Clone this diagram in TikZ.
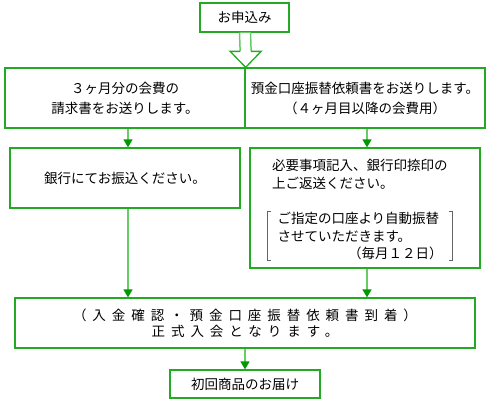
\documentclass[tikz,border=0pt]{standalone}
\usepackage{fontspec}
\setmainfont{Noto Sans CJK JP}
\newfontfamily\jpwide[LetterSpace=44]{Noto Sans CJK JP}
\usetikzlibrary{arrows.meta,positioning,calc}
\definecolor{boxgreen}{HTML}{22AA22}
\definecolor{shaftgreen}{HTML}{66CC66}
\definecolor{tipgreen}{HTML}{009900}
\definecolor{brgray}{HTML}{666666}
\tikzset{
  >={Triangle[length=8pt,width=9pt,color=tipgreen]},
  % kasten
  fbox/.style={draw=boxgreen,line width=1.3pt,inner sep=0pt,align=center,
               font=\fontsize{13.5}{20}\selectfont},
  ftxt/.style={inner sep=0pt,align=left,font=\fontsize{13.5}{18}\selectfont},
  % pfeile
  fa/.style={->,draw=shaftgreen,line width=1.6pt},
  hshaft/.style={draw=shaftgreen,line width=1.5pt},
  hhead/.style={draw=boxgreen,line width=1.3pt,line join=miter},
  brk/.style={draw=brgray,line width=1pt},
}
\begin{document}
\begin{tikzpicture}[x=1pt,y=-1pt]
  \useasboundingbox (0,0) rectangle (490,400);
  \node[fbox,minimum width=89pt,minimum height=29pt] (apply) at (244.5,17.5) {お申込み};
  \node[fbox,minimum width=240pt,minimum height=60pt] (bill) at (125,98)
    {３ヶ月分の会費の\\請求書をお送りします。};
  \node[fbox,minimum width=240pt,minimum height=60pt] (form) at (365,98)
    {預金口座振替依頼書をお送りします。\\（４ヶ月目以降の会費用）};
  \node[fbox,minimum width=230pt,minimum height=60pt] (bank) at (125,178)
    {銀行にてお振込ください。};
  \node[fbox,minimum width=230pt,minimum height=120pt] (ret) at (365,208) {};
  \node[ftxt,anchor=west] (retnote) at (272,174)
    {必要事項記入、銀行印捺印の\\上ご返送ください。};
  \node[ftxt,text width=165pt,inner xsep=10pt,minimum height=45pt,
        font=\fontsize{13.5}{17.5}\selectfont] (auto) at (360,236)
    {ご指定の口座より自動振替\\させていただきます。\\\hfill（毎月１２日）};
  \node[fbox,minimum width=460pt,minimum height=50pt,
        font=\jpwide\fontsize{13.5}{16}\selectfont] (join) at (245,323)
    {（入金確認・預金口座振替依頼書到着）\\正式入会となります。};
  \node[fbox,minimum width=150pt,minimum height=28pt] (first) at (245,384)
    {初回商品のお届け};

  % hohlpfeil
  \coordinate (tip) at (bill.north east);
  \draw[hshaft] ($(apply.south)+(-5,0)$) -- ($(tip)+(-5.5,-16)$);
  \draw[hshaft] ($(apply.south)+(6,0)$) -- ($(tip)+(5.5,-16)$);
  \draw[hshaft] ($(apply.south)+(-5,0)$) -- ($(apply.south)+(6,0)$);
  \draw[hhead] ($(tip)+(-5.5,-16)$) -- ($(tip)+(-15.5,-16)$) -- (tip)
    -- ($(tip)+(15.5,-16)$) -- ($(tip)+(5.5,-16)$);

  \draw[fa] ([xshift=3pt]bill.south) -- ([xshift=3pt]bank.north);
  \draw[fa] ([xshift=2pt]form.south) -- ([xshift=2pt]ret.north);
  \draw[fa] ([xshift=3pt]bank.south) -- ([xshift=3pt]bank.south |- join.north);
  \draw[fa] ([xshift=2pt]ret.south) -- ([xshift=2pt]ret.south |- join.north);
  \draw[fa] (join.south) -- (first.north);

  % klammern
  \draw[brk] ([xshift=4pt]auto.north west) -- (auto.north west)
    -- (auto.south west) -- ++(4,0);
  \draw[brk] ([xshift=-4pt]auto.north east) -- (auto.north east)
    -- (auto.south east) -- ++(-4,0);
\end{tikzpicture}
\end{document}
